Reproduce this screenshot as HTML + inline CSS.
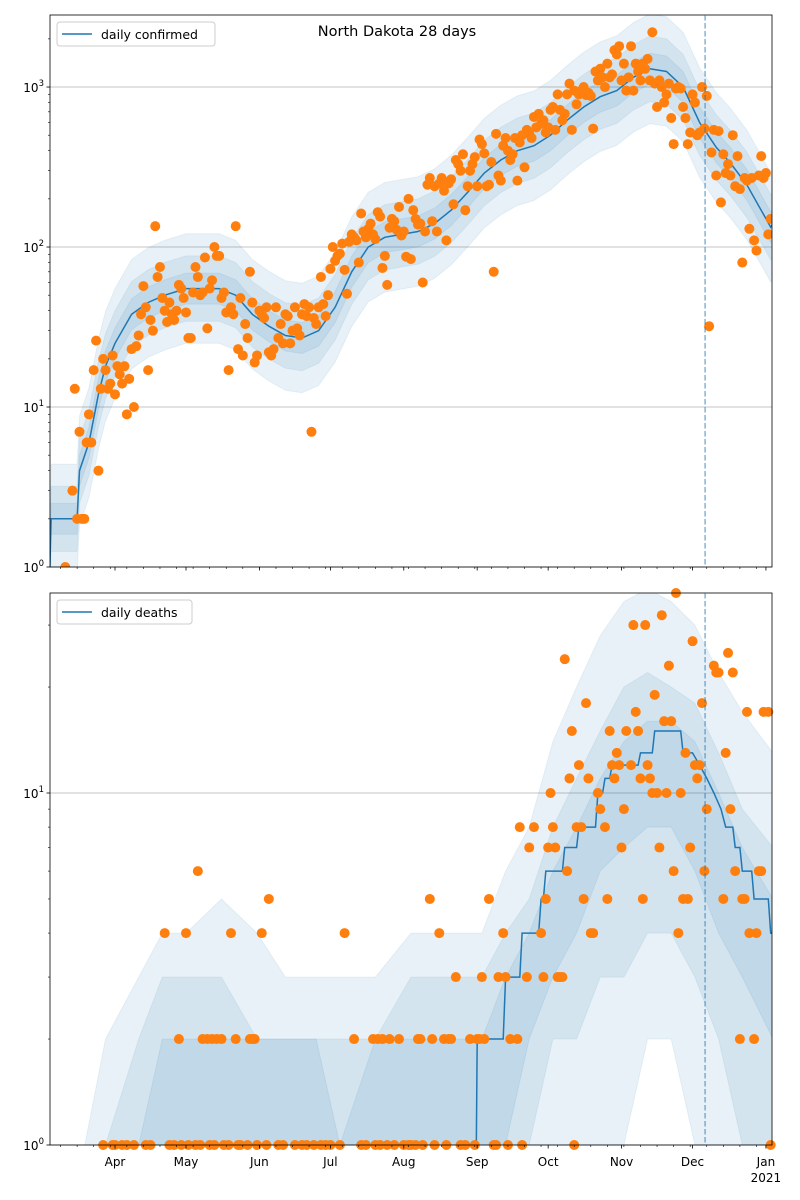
<!DOCTYPE html>
<html><head><meta charset="utf-8"><style>html,body{margin:0;padding:0;background:#fff;width:800px;height:1200px;overflow:hidden}svg{display:block;font-family:"DejaVu Sans","Liberation Sans",sans-serif}</style></head>
<body>
<svg id="c" width="800" height="1200" xmlns="http://www.w3.org/2000/svg"></svg>
<script>
// ---- confirmed data (day index: 0 = Apr 1 2020) ----
const confLineDays = [-27.5,-27,-16,-15,-11,-7,-4,0,7,14,21,30,37,44,51,58,65,72,79,86,93,100,107,114,121,128,135,142,149,156,163,170,177,184,191,198,205,212,219,226,233,240,247,254,260,267,277,278];
const confLineVals = [1,2,2,4,6,12,18,25,38,45,50,55,55,55,50,38,32,28,27,30,42,70,100,115,120,125,140,170,220,290,350,400,430,500,620,750,870,950,1150,1300,1250,1000,600,420,335,244,133,140];
const confBandFactors = [1.25,1.6,2.2];
const confStartDay = -21;
const confVals = [
1,null,null,3,13,2,7, 2,2,6,9,6,17,26, 4,13,20,17,13,14,21, 12,18,16,14,18,9,15,
23,10,24,28,38,57,42, 17,35,30,135,65,75,48, 40,34,45,38,35,40,58, 55,48,39,27,27,52,75,
65,50,52,86,31,55,62, 100,88,88,48,52,39,17, 42,38,135,23,48,21,33, 27,70,45,19,21,40,38,
36,42,22,21,23,42,27, 33,25,38,37,25,30,42, 31,28,38,44,37,42,7, 36,33,42,65,44,37,50,
73,100,82,88,91,105,72, 51,108,120,115,110,80,162, 125,115,130,140,120,112,165, 155,74,88,58,132,150,145,
128,178,118,125,87,200,84, 170,150,138,140,60,125,245, 270,145,240,125,250,270,225, 110,250,265,185,350,330,300,
380,170,240,300,330,365,240, 470,440,385,240,245,340,70, 510,280,260,430,480,400,350, 380,480,260,450,500,315,540,
510,480,650,560,680,590,620, 520,560,720,750,540,900,720, 620,680,900,1050,540,950,780, 900,950,1000,890,920,880,550,
1250,1100,1300,1150,1000,1400,1150, 1200,1700,1600,1800,1100,1400,950, 1150,1800,950,1400,1250,1100,1400, 1300,1500,1100,2200,1050,750,1100,
1000,800,900,1050,640,440,980, 1000,980,750,640,440,520,900, 800,500,520,1000,550,880,32, 390,540,280,530,190,380,290,
330,280,500,240,370,230,80, 270,260,130,270,110,95,280, 370,270,290,120,150];
// ---- deaths data ----
const deathLineDays = [-28,152,153,164,165,171,172,179,180,181,182,189,190,195,196,203,204,206,207,209,210,221,222,227,228,239,240,244,247,250,253,256,258,261,262,264,265,269,270,276,277,278];
const deathLineVals = [0,0,2,2,3,3,4,4,5,5,6,6,7,7,8,8,10,10,11,11,12,12,13,13,15,15,13,13,12,11,10,9,8,8,7,7,6,6,5,5,4,4];
const deathBandDays = [-28,-4,10,20,30,45,60,72,85,95,110,125,140,155,165,175,185,195,205,215,225,235,245,255,265,278];
const deathOuterHi = [0,2,3,4,4,5,4,3,3,3,3,4,4,4,6,8,14,20,28,35,38,35,30,22,17,13];
const deathMidHi   = [0,1,2,3,3,3,2,2,2,2,2,3,3,3,4,5,8,11,15,20,22,20,18,13,9,7];
const deathInnerHi = [0,0,1,2,2,2,2,2,2,1,2,2,2,2,3,4,6,8,11,14,16,16,14,10,7,5];
const deathInnerLo = [0,0,0,0,0,0,0,0,0,0,0,0,0,0,1,2,3,4,6,7,8,8,6,4,3,2];
const deathMidLo   = [0,0,0,0,0,0,0,0,0,0,0,0,0,0,0,1,2,2,3,3,4,4,3,2,1,1];
const deathOuterLo = [0,0,0,0,0,0,0,0,0,0,0,0,0,0,0,0,0,1,1,1,2,2,1,0,0,0];
const deathDays = [-5,-1,0,3,5,8,13,15,21,23,25,27,28,30,31,34,35,36,37,39,40,41,42,43,45,46,48,49,51,52,53,56,57,58,59,60,62,64,65,69,71,76,79,81,84,87,89,91,95,97,101,104,106,109,110,111,112,113,115,116,118,120,122,124,125,127,128,129,130,133,134,135,137,139,140,141,142,144,146,148,150,152,153,154,155,156,158,160,161,162,164,165,166,167,170,171,172,174,175,177,180,181,182,183,184,185,186,187,188,189,190,191,192,193,194,195,196,197,198,199,200,201,202,204,205,207,208,209,210,211,212,213,214,215,216,218,219,220,221,222,223,224,225,226,227,228,229,230,231,232,233,234,235,236,237,238,239,240,241,242,243,244,245,246,247,248,249,250,253,254,255,257,258,259,260,261,262,264,265,266,267,268,270,271,272,273,274,276,277];
const deathVals = [1,1,1,1,1,1,1,1,4,1,1,2,1,4,1,1,6,1,2,2,1,2,1,2,2,1,1,4,2,1,1,1,2,2,2,1,4,1,5,1,1,1,1,1,1,1,1,1,1,4,2,1,1,2,1,2,1,2,1,2,1,2,1,1,1,1,2,2,1,5,2,1,4,2,1,2,2,3,1,1,2,1,2,2,3,2,5,1,1,3,4,3,1,2,2,8,1,3,7,8,4,3,5,7,10,8,7,3,3,3,24,6,11,15,1,8,12,8,5,18,11,4,4,10,9,8,5,15,12,11,13,12,7,9,15,12,30,17,15,11,5,30,12,11,10,19,10,7,32,16,10,23,16,6,40,4,10,5,13,5,7,27,12,11,12,18,6,9,23,22,22,5,13,25,9,22,6,2,5,5,17,4,2,4,6,6,17,17,1];
const monthLabels = ["Apr","May","Jun","Jul","Aug","Sep","Oct","Nov","Dec","Jan"];
const monthDays = [0,30,61,91,122,153,183,214,244,275];

const NS="http://www.w3.org/2000/svg";
const svg=document.getElementById('c');
function mk(tag,attrs,parent){const e=document.createElementNS(NS,tag);for(const k in attrs)e.setAttribute(k,attrs[k]);(parent||svg).appendChild(e);return e;}
const X0=50,X1=772;
const xs=d=>115+d*2.367;
function makeY(top,bot,decades){return v=>{const lv=Math.log10(Math.max(v,0.3));return bot-lv*(bot-top)/decades;};}
const axes=[{top:15,bot:567,dec:Math.log10(2820),name:'confirmed'},{top:593,bot:1145,dec:Math.log10(37),name:'deaths'}];
axes.forEach((a,i)=>{const cp=mk('clipPath',{id:'clip'+i});mk('rect',{x:X0,y:a.top,width:X1-X0,height:a.bot-a.top},cp);a.ys=makeY(a.top,a.bot,a.dec);});

function bandPath(days,lo,hi,ys){let p='';days.forEach((d,i)=>{p+=(i?'L':'M')+xs(d).toFixed(1)+','+ys(hi[i]).toFixed(1);});for(let i=days.length-1;i>=0;i--)p+='L'+xs(days[i]).toFixed(1)+','+ys(lo[i]).toFixed(1);return p+'Z';}
function linePath(days,vals,ys){return days.map((d,i)=>(i?'L':'M')+xs(d).toFixed(1)+','+ys(vals[i]).toFixed(1)).join('');}

function drawAxes(a,i){
  const g=mk('g',{});
  
  for(let k=0;k<=3;k++){const y=a.ys(Math.pow(10,k));if(y>=a.top&&y<=a.bot){const l=mk('line',{x1:X0,x2:X1,y1:y,y2:y,stroke:'#b0b0b0','stroke-width':0.8},g);}}
  const plot=mk('g',{'clip-path':'url(#clip'+i+')'},g);
  
  return {g,plot};
}
function yTicks(a,g){
  for(let k=0;k<=3;k++){for(let m=1;m<10;m++){const v=m*Math.pow(10,k);const y=a.ys(v);if(y<a.top-0.5||y>a.bot+0.5)continue;
    const t=mk('line',{x1:X0,x2:X0-(m==1?3.5:2),y1:y,y2:y,stroke:'#000','stroke-width':m==1?0.8:0.6},g);
    if(m==1){const tx=mk('text',{x:X0-6,y:y+5,'font-size':12,'text-anchor':'end'},g);tx.textContent='10';const s=mk('tspan',{dy:-6,'font-size':8.5},tx);s.textContent=String(k);}}}
}
function xTicks(a,g,labels){
  for(let d=-23;d<=279;d+=7){const x=xs(d);if(x<X0||x>X1)continue;const t=mk('line',{x1:x,x2:x,y1:a.bot,y2:a.bot+2,stroke:'#000','stroke-width':0.6},g);}
  monthDays.forEach((d,j)=>{const x=xs(d);const t=mk('line',{x1:x,x2:x,y1:a.bot,y2:a.bot+3.5,stroke:'#000','stroke-width':0.8},g);
    if(labels){const tx=mk('text',{x:x,y:a.bot+21,'font-size':12,'text-anchor':'middle'},g);tx.textContent=monthLabels[j];
      if(monthLabels[j]=='Jan'){const t2=mk('text',{x:x,y:a.bot+37,'font-size':12,'text-anchor':'middle'},g);t2.textContent='2021';}}});
}
function frame(a,g,legendText,lw){
  const f=mk('rect',{x:X0,y:a.top,width:X1-X0,height:a.bot-a.top,fill:'none',stroke:'#000','stroke-width':0.8},g);
  const v=mk('line',{x1:xs(249.3),x2:xs(249.3),y1:a.top,y2:a.bot,stroke:'#1f77b4','stroke-opacity':0.55,'stroke-width':1.5,'stroke-dasharray':'5.5,2.5'},g);
  const lg=mk('g',{},g);
  mk('rect',{x:57,y:a.top+7,width:lw,height:24,rx:3,fill:'#fff','fill-opacity':0.8,stroke:'#ccc'},lg);
  mk('line',{x1:62,x2:92,y1:a.top+19,y2:a.top+19,stroke:'#1f77b4','stroke-width':1.5},lg);
  const t=mk('text',{x:101,y:a.top+24,'font-size':12.5},lg);t.textContent=legendText;
}

(function(){const a=axes[0];const {g,plot}=drawAxes(a,0);
  confBandFactors.slice().reverse().forEach(f=>{const p=mk('path',{d:bandPath(confLineDays,confLineVals.map(v=>v/f),confLineVals.map(v=>v*f),a.ys),fill:'#1f77b4','fill-opacity':0.1,stroke:'#1f77b4','stroke-opacity':0.08},plot);});
  const ln=mk('path',{d:linePath(confLineDays,confLineVals,a.ys),fill:'none',stroke:'#1f77b4','stroke-width':1.5},plot);
  confVals.forEach((v,i)=>{if(v==null)return;const c=mk('circle',{cx:xs(confStartDay+i),cy:a.ys(v),r:5,fill:'#ff7f0e'},plot);});
  yTicks(a,g);xTicks(a,g,false);frame(a,g,'daily confirmed',158);
  const t=mk('text',{x:397,y:36,'font-size':14.5,'text-anchor':'middle'},g);t.textContent='North Dakota 28 days';
})();
(function(){const a=axes[1];const {g,plot}=drawAxes(a,1);
  [[deathOuterLo,deathOuterHi],[deathMidLo,deathMidHi],[deathInnerLo,deathInnerHi]].forEach(b=>{const p=mk('path',{d:bandPath(deathBandDays,b[0],b[1],a.ys),fill:'#1f77b4','fill-opacity':0.1,stroke:'#1f77b4','stroke-opacity':0.08},plot);});
  const ln=mk('path',{d:linePath(deathLineDays,deathLineVals,a.ys),fill:'none',stroke:'#1f77b4','stroke-width':1.5},plot);
  deathVals.forEach((v,i)=>{const c=mk('circle',{cx:xs(deathDays[i]),cy:Math.max(a.ys(v),a.top),r:5,fill:'#ff7f0e'},g);});
  yTicks(a,g);xTicks(a,g,true);frame(a,g,'daily deaths',135);
})();
</script>
</body></html>
